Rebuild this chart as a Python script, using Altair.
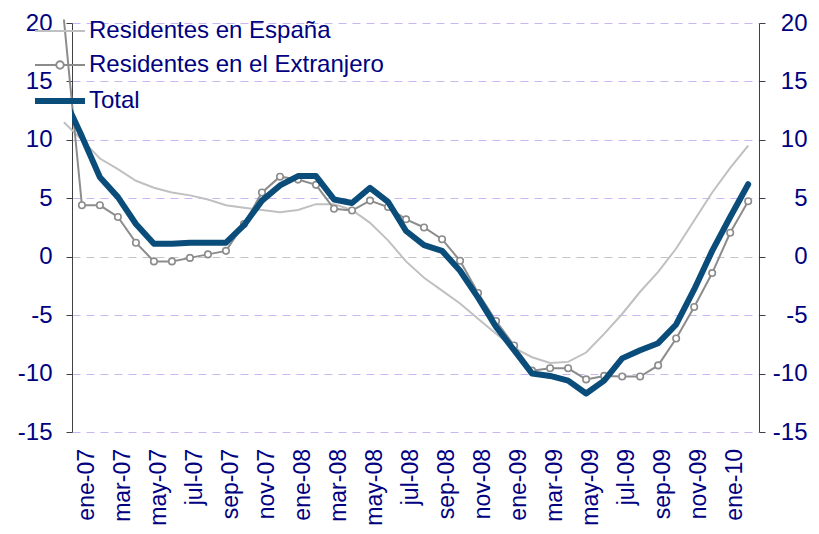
import altair as alt
import pandas as pd

# month categories, index -1 (dic-06) .. 37 (feb-10)
months = ["dic-06",
          "ene-07", "feb-07", "mar-07", "abr-07", "may-07", "jun-07", "jul-07", "ago-07", "sep-07", "oct-07", "nov-07", "dic-07",
          "ene-08", "feb-08", "mar-08", "abr-08", "may-08", "jun-08", "jul-08", "ago-08", "sep-08", "oct-08", "nov-08", "dic-08",
          "ene-09", "feb-09", "mar-09", "abr-09", "may-09", "jun-09", "jul-09", "ago-09", "sep-09", "oct-09", "nov-09", "dic-09",
          "ene-10", "feb-10"]
month_index = list(range(-1, 38))
tick_index = [0, 2, 4, 6, 8, 10, 12, 14, 16, 18, 20, 22, 24, 26, 28, 30, 32, 34, 36]
y_ticks = [-15, -10, -5, 0, 5, 10, 15, 20]

series_names = ["Residentes en España", "Residentes en el Extranjero", "Total"]

espana = [11.5, 10.0, 8.4, 7.5, 6.5, 5.9, 5.5, 5.25, 4.9, 4.4, 4.2, 4.0, 3.8, 4.0, 4.5,
          4.5, 4.0, 2.9, 1.4, -0.4, -1.8, -2.9, -4.0, -5.3, -6.6, -7.8, -8.6, -9.1, -9.0,
          -8.2, -6.6, -4.9, -3.0, -1.3, 0.7, 3.1, 5.5, 7.6, 9.5]
extranjero = [20.3, 4.4, 4.4, 3.4, 1.2, -0.4, -0.4, -0.1, 0.2, 0.5, 2.8, 5.5, 6.85, 6.6, 6.15,
              4.1, 3.95, 4.8, 4.25, 3.2, 2.5, 1.5, -0.35, -3.1, -5.5, -7.6, -9.75, -9.55, -9.55,
              -10.5, -10.2, -10.25, -10.25, -9.3, -7.0, -4.3, -1.4, 2.05, 4.75]
total = [13.6, 10.3, 6.8, 5.1, 2.8, 1.1, 1.1, 1.2, 1.2, 1.2, 2.7, 4.8, 6.1, 6.9, 6.9,
         4.9, 4.6, 5.9, 4.7, 2.2, 1.0, 0.5, -1.2, -3.5, -6.0, -8.0, -10.0, -10.2, -10.6,
         -11.7, -10.6, -8.7, -8.0, -7.4, -5.8, -2.8, 0.5, 3.4, 6.2]

colors = ["#c0c0c0", "#8c8c8c", "#0b4d7a"]
legend_widths = [2, 2, 6]
navy = "#000080"
font = "Liberation Sans"

rows = []
for name, vals in zip(series_names, [espana, extranjero, total]):
    for i, v in zip(month_index, vals):
        rows.append({"idx": i, "mes": months[i + 1], "serie": name, "valor": v})
df = pd.DataFrame(rows)

ticks_df = pd.DataFrame({"idx": tick_index, "mes": [months[t + 1] for t in tick_index]})

y_label_expr = "(datum.value < 0 ? '-' : '') + abs(datum.value)"

x_scale = alt.Scale(domain=[-0.55, 37.6], nice=False, zero=False)
y_scale = alt.Scale(domain=[-15, 20], nice=False, zero=False)

left_axis = alt.Axis(orient="left", values=y_ticks, title=None, labelExpr=y_label_expr,
                     labelFont=font, labelFontSize=24, labelColor=navy, labelPadding=14,
                     tickSize=6, tickColor="#404040", domainColor="#404040",
                     grid=True, gridDash=[8, 6], gridWidth=1,
                     gridColor={"condition": {"test": "datum.value === 0", "value": "#c4c4c4"},
                                "value": "#c9b6f2"})
right_axis = alt.Axis(orient="right", values=y_ticks, title=None, labelExpr=y_label_expr,
                      labelFont=font, labelFontSize=24, labelColor=navy, labelPadding=42,
                      labelAlign="right",
                      tickSize=6, tickColor="#404040", domainColor="#404040", grid=False)

ext_path = ("M-1.667,0H-0.25M0.25,0H1.667"
            "M0.25,0A0.25,0.25 0 1,1 -0.25,0A0.25,0.25 0 1,1 0.25,0")
line_path = "M-1.667,0H1.667"

legend = alt.Legend(
    orient="none", legendX=-30, legendY=-8, title=None, padding=0,
    labelFont=font, labelFontSize=24, labelColor=navy, labelLimit=0,
    labelOffset=11, symbolSize=900, rowPadding=6,
    symbolFillColor="white", symbolOpacity=1,
)

color = alt.Color("serie:N", scale=alt.Scale(domain=series_names, range=colors), legend=legend)
shape = alt.Shape("serie:N", scale=alt.Scale(domain=series_names,
                                             range=[line_path, ext_path, line_path]), legend=legend)
swidth = alt.StrokeWidth("serie:N", scale=alt.Scale(type="ordinal", domain=series_names,
                                                    range=legend_widths), legend=legend)

base = alt.Chart(df)

l_esp = base.transform_filter(alt.datum.serie == series_names[0]).mark_line(
    strokeWidth=2).encode(
    x=alt.X("idx:Q", scale=x_scale, axis=None),
    y=alt.Y("valor:Q", scale=y_scale, axis=left_axis),
    color=color,
)

l_ext = base.transform_filter(alt.datum.serie == series_names[1]).mark_line(
    strokeWidth=2).encode(
    x=alt.X("idx:Q", scale=x_scale, axis=None),
    y=alt.Y("valor:Q", scale=y_scale, axis=right_axis),
    color=color,
)

p_ext = base.transform_filter(
    (alt.datum.serie == series_names[1]) & (alt.datum.idx >= 0)
).mark_point(shape="circle", size=42, filled=False, fill="white", fillOpacity=1,
             stroke="#8c8c8c", strokeWidth=1.6, opacity=1).encode(
    x=alt.X("idx:Q", scale=x_scale, axis=None),
    y=alt.Y("valor:Q", scale=y_scale, axis=None),
)

l_tot = base.transform_filter(alt.datum.serie == series_names[2]).mark_line(
    strokeWidth=6, clip=True, strokeCap="round", strokeJoin="round").encode(
    x=alt.X("idx:Q", scale=x_scale, axis=None),
    y=alt.Y("valor:Q", scale=y_scale, axis=None),
    color=color,
)

# legend-only layer (no rows pass the filter)
leg = base.transform_filter("false").mark_point(filled=False, fill="white", opacity=1).encode(
    x=alt.X("idx:Q", scale=x_scale, axis=None),
    y=alt.Y("valor:Q", scale=y_scale, axis=None),
    color=color, shape=shape, strokeWidth=swidth,
)

# category labels under the plot (rotated, as in the original)
x_labels = alt.Chart(ticks_df).mark_text(
    angle=270, align="right", baseline="middle", dy=5,
    font=font, fontSize=23, color=navy).encode(
    x=alt.X("idx:Q", scale=x_scale, axis=None),
    y=alt.value(426),
    text="mes:N",
)

chart = alt.layer(l_esp, l_ext, p_ext, l_tot, leg, x_labels).resolve_axis(y="independent").properties(
    width=687, height=409,
    autosize=alt.AutoSizeParams(type="none"),
    padding={"left": 64, "top": 15, "right": 52, "bottom": 94},
    background="white",
).configure_view(strokeWidth=0)

chart.save("out.html", embed_options={"renderer": "svg", "actions": False})
